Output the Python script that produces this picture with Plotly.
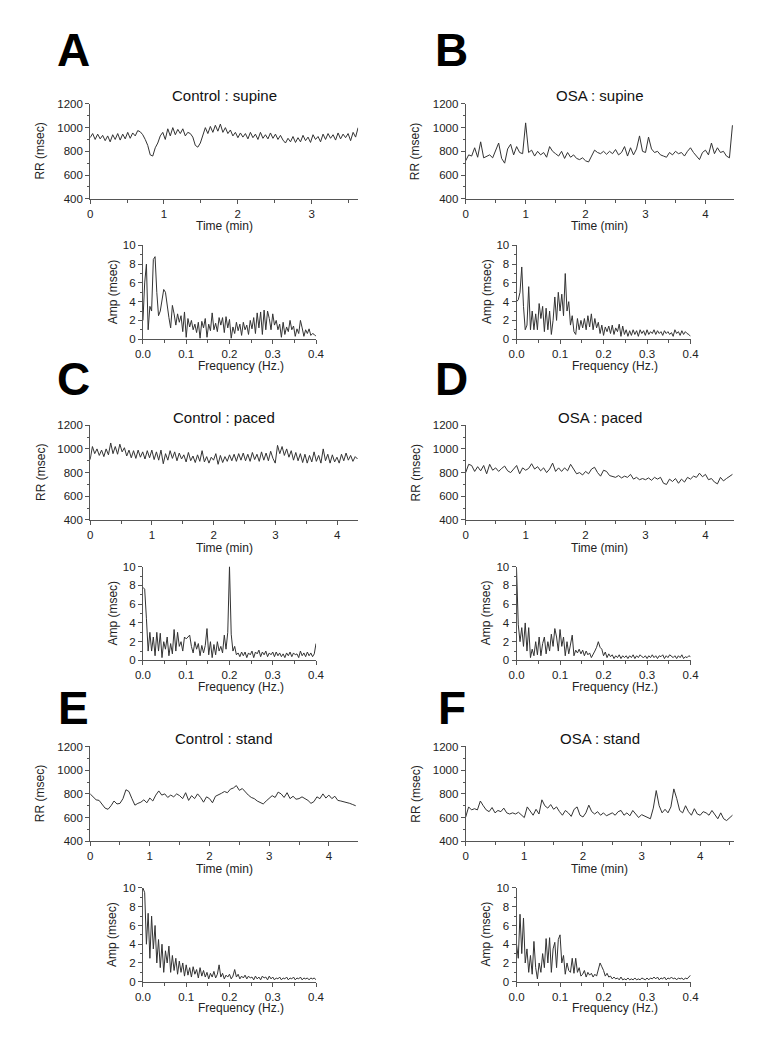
import numpy as np
import plotly.graph_objects as go

W, H = 771, 1050

# ---------------- data ----------------
panel_letters = ["A", "B", "C", "D", "E", "F"]
panel_titles = ["Control : supine", "OSA : supine", "Control : paced",
                "OSA : paced", "Control : stand", "OSA : stand"]
durations_min = [3.63, 4.45, 4.33, 4.45, 4.45, 4.55]
time_axis_end = [3.63, 4.47, 4.34, 4.47, 4.49, 4.57]

rr_A = [915, 950, 900, 945, 905, 935, 890, 930, 880, 940, 900, 950, 895, 945, 905, 960, 910, 955, 930, 975,
        965, 940, 900, 850, 770, 760, 830, 870, 930,
        960, 900, 990, 930, 1000, 940, 985, 950, 990, 930, 960,
        950, 920, 850, 835, 870, 940,
        1000, 950, 1010, 960, 1020, 970, 1030, 960, 1000, 950,
        980, 930, 960, 915, 955, 920, 950, 905, 960, 915, 945, 900, 960, 910, 940, 905, 955, 910, 945, 900, 935, 895,
        870, 910, 880, 925, 875, 915, 880, 935, 890, 920, 875, 940, 900, 925, 880, 945, 900, 950, 910, 940,
        895, 955, 905, 945, 915, 950, 890, 960, 920, 1000]

rr_B = [720, 770, 760, 830, 750, 880, 745, 760, 770, 745, 800, 870, 740, 700, 820, 860, 770, 840, 790, 780,
        1040, 790, 810, 760, 800, 770, 790, 750, 840, 800, 780, 760, 800, 740, 790, 750, 770, 740, 730, 745,
        720, 710, 760, 810, 790, 780, 800, 775, 800, 780, 815, 770, 790, 840, 760, 830, 770, 820, 930, 800,
        790, 920, 820, 790, 800, 770, 760, 750, 790, 770, 800, 780, 790, 760, 800, 830, 790, 760, 730, 790,
        810, 770, 870, 780, 830, 790, 800, 760, 745, 1020]

rr_C = [910, 1020, 960, 1000, 945, 990, 935, 1000, 950, 1050, 960, 1020, 955, 1040, 975, 1010, 940, 990, 925, 985,
        920, 990, 930, 975, 915, 985, 925, 990, 910, 975, 905, 990, 875, 960, 905, 985, 920, 975, 900, 965,
        915, 950, 890, 970, 900, 940, 885, 950, 895, 985, 890, 935, 880, 930, 905, 960, 870, 945, 885, 935,
        895, 950, 900, 955, 895, 960, 905, 965, 900, 955, 895, 970, 910, 955, 895, 975, 905, 965, 900, 980,
        920, 880, 1030, 960, 1020, 945, 1000, 930, 985, 905, 970, 900, 960, 885, 955, 880, 945, 890, 975, 895,
        945, 880, 1000, 900, 955, 880, 950, 890, 930, 880, 955, 900, 965, 905, 945, 895, 935, 915]

rr_D = [800, 870, 860, 810, 850, 815, 860, 790, 870, 820, 840, 810, 835, 855, 815, 800, 830, 860, 790, 840,
        820, 835, 875, 830, 850, 815, 840, 800, 830, 880, 810, 840, 810, 840, 815, 870, 830, 790, 800, 780,
        810, 790, 830, 845, 800, 770, 820, 810, 775, 770, 760, 775, 755, 770, 760, 785, 745, 760, 740, 750,
        740, 755, 735, 760, 745, 760, 710, 700, 745, 725, 750, 710, 745, 720, 760, 745, 770, 760, 795, 765,
        785, 740, 750, 720, 705, 760, 730, 750, 770, 785]

rr_E = [800, 775, 750, 745, 710, 680, 670, 700, 740, 715, 720, 760, 835, 820, 760, 705, 720, 730, 750, 725,
        765, 740, 790, 825, 790, 800, 770, 790, 775, 800, 785, 760, 810, 745, 785, 760, 800, 770, 730, 775,
        760, 725, 780, 790, 805, 820, 810, 840, 850, 870, 830, 845, 815, 790, 770, 760, 740, 725, 715, 740,
        760, 785, 770, 815, 800, 770, 810, 760, 780, 755, 760, 775, 760, 745, 720, 735, 775, 760, 800, 765,
        790, 760, 780, 745, 740, 735, 730, 720, 710, 700]

rr_F = [604, 690, 665, 675, 665, 740, 700, 665, 650, 685, 640, 660, 650, 680, 640, 630, 640, 630, 645, 625,
        600, 690, 650, 620, 670, 630, 750, 700, 680, 710, 670, 690, 650, 620, 660, 640, 610, 670, 690, 620,
        605, 640, 705, 650, 630, 650, 620, 640, 615, 630, 640, 620, 650, 660, 620, 640, 615, 660, 625, 600,
        625, 615, 600, 590, 680, 828, 700, 640, 670, 640, 690, 842, 760, 660, 640, 700, 650, 620, 675, 630,
        620, 650, 640, 620, 660, 620, 590, 640, 590, 575, 600, 620]

# spectra: frequency grid 0 .. 0.4 Hz, step 0.004 Hz
freq_step_hz = 0.004
amp_A = [2.0, 6.0, 8.0, 1.0, 3.5, 3.0, 8.5, 8.8, 5.0, 2.5, 3.0, 4.2, 5.3, 5.0, 3.5, 2.3, 1.2, 3.6, 2.7, 1.5,
         2.7, 1.8, 2.5, 0.8, 2.9, 0.2, 2.2, 1.3, 2.0, 1.0, 1.6, 0.7, 1.8, 0.1, 1.9, 1.2, 2.2, 0.2, 1.6, 0.9,
         2.8, 1.0, 1.7, 0.8, 2.3, 1.5, 2.3, 0.7, 2.4, 1.2, 2.1, 0.1, 1.3, 0.6, 1.8, 0.9, 1.6, 0.4, 1.8, 1.0,
         1.5, 0.5, 2.0, 1.1, 2.3, 0.6, 2.8, 1.2, 2.9, 0.5, 3.1, 1.0, 3.0, 2.2, 1.0, 2.7, 1.5, 2.0, 1.0, 1.6,
         0.2, 1.8, 0.5, 1.3, 0.8, 2.0, 1.0, 1.4, 0.3, 1.1, 0.6, 2.0, 1.2, 0.3, 1.0, 0.6, 1.1, 0.4, 0.6, 0.5,
         0.3]
amp_B = [4.0, 4.2, 5.0, 7.7, 3.5, 1.0, 1.5, 5.6, 1.0, 3.0, 1.0, 2.7, 1.0, 3.8, 2.2, 3.5, 0.8, 3.3, 1.0, 3.0,
         0.5, 2.0, 4.5, 2.0, 5.0, 3.0, 4.8, 2.5, 7.0, 3.0, 4.0, 1.5, 2.5, 0.8, 0.5, 2.2, 1.0, 2.0, 1.2, 2.2,
         1.0, 2.5, 1.3, 2.7, 1.0, 2.2, 1.2, 1.8, 0.6, 1.5, 0.4, 1.3, 0.8, 1.4, 0.6, 1.5, 0.5, 1.2, 0.8, 1.6,
         0.3, 1.4, 0.5, 1.0, 0.3, 0.9, 0.4, 1.0, 0.5, 0.9, 0.3, 1.0, 0.6, 0.9, 0.4, 1.0, 0.5, 0.8, 0.6, 1.0,
         0.5, 0.9, 0.6, 0.8, 0.4, 0.9, 0.6, 0.8, 0.5, 0.7, 0.3, 1.0, 0.6, 0.8, 0.4, 0.9, 0.5, 0.8, 0.6, 0.5,
         0.3]
amp_C = [7.8, 7.6, 4.5, 1.0, 3.0, 1.0, 2.5, 0.5, 3.0, 1.0, 2.9, 0.3, 2.0, 1.2, 2.5, 0.5, 1.8, 0.7, 3.3, 1.0,
         3.0, 1.5, 2.0, 1.0, 2.5, 2.3, 2.5, 2.7, 1.5, 0.8, 2.0, 1.2, 1.8, 0.5, 1.6, 0.8, 1.6, 3.4, 0.6, 2.0,
         0.3, 1.7, 0.6, 2.0, 1.0, 1.5, 0.8, 2.7, 1.2, 3.0, 10.0, 2.8, 1.0, 1.5, 0.6, 0.8, 0.4, 0.9, 0.5, 0.9,
         0.3, 0.8, 0.6, 1.0, 0.3, 0.9, 0.7, 1.1, 0.4, 0.9, 0.6, 1.0, 0.4, 0.8, 0.6, 0.9, 0.4, 0.9, 0.5, 0.8,
         0.4, 0.7, 0.3, 0.8, 0.5, 0.9, 0.4, 0.8, 0.6, 0.7, 0.3, 1.0, 0.5, 0.8, 0.4, 0.9, 0.5, 0.8, 0.4, 0.7,
         1.8]
amp_D = [9.8, 3.8, 2.0, 3.5, 1.5, 4.0, 1.0, 3.5, 0.3, 1.2, 0.5, 2.0, 0.6, 2.5, 0.5, 1.8, 2.5, 0.7, 2.0, 1.0,
         2.8, 1.5, 3.4, 2.5, 1.0, 3.3, 1.5, 2.5, 0.5, 2.0, 0.7, 1.6, 2.7, 0.5, 1.1, 0.8, 1.2, 0.7, 1.1, 0.5,
         1.0, 0.6, 0.8, 0.3, 0.6, 1.0, 1.4, 2.0, 1.4, 1.2, 0.5, 0.9, 0.3, 0.7, 0.4, 0.6, 0.2, 0.5, 0.3, 0.6,
         0.2, 0.5, 0.3, 0.5, 0.2, 0.5, 0.3, 0.6, 0.2, 0.5, 0.3, 0.6, 0.4, 0.3, 0.5, 0.2, 0.5, 0.3, 0.6, 0.3,
         0.5, 0.2, 0.5, 0.4, 0.6, 0.2, 0.5, 0.3, 0.6, 0.4, 0.3, 0.5, 0.2, 0.5, 0.3, 0.6, 0.2, 0.4, 0.3, 0.5,
         0.4]
amp_E = [10.0, 9.5, 4.0, 7.3, 2.5, 7.0, 3.5, 6.0, 2.0, 4.5, 1.5, 4.0, 1.0, 3.3, 2.0, 3.8, 1.0, 2.8, 1.2, 2.5,
         0.8, 2.2, 1.0, 2.0, 0.6, 1.8, 0.7, 1.5, 0.5, 1.6, 0.8, 1.3, 0.4, 1.5, 0.6, 1.2, 0.5, 1.0, 0.3, 0.9,
         0.5, 1.1, 0.4, 0.8, 1.8, 0.5, 0.9, 0.3, 0.7, 0.5, 0.8, 0.3, 0.6, 1.3, 0.5, 0.8, 0.3, 0.6, 0.4, 0.7,
         0.3, 0.6, 0.4, 0.5, 0.2, 0.6, 0.3, 0.5, 0.2, 0.6, 0.4, 0.5, 0.2, 0.6, 0.3, 0.5, 0.2, 0.4, 0.3, 0.5,
         0.2, 0.4, 0.3, 0.5, 0.2, 0.4, 0.3, 0.5, 0.2, 0.4, 0.3, 0.5, 0.2, 0.4, 0.3, 0.4, 0.2, 0.4, 0.3, 0.4,
         0.2]
amp_F = [4.0, 2.5, 7.2, 3.0, 6.8, 2.0, 3.5, 1.0, 2.8, 0.8, 4.3, 1.5, 0.3, 2.0, 1.0, 3.0, 1.5, 4.6, 2.0, 4.7,
         1.0, 3.5, 4.2, 1.5, 4.5, 5.0, 2.0, 2.8, 0.8, 2.0, 1.2, 1.0, 2.5, 0.9, 2.5, 1.0, 1.5, 0.6, 0.8, 1.2,
         0.5, 1.0, 0.7, 0.9, 0.5, 0.8, 0.6, 1.2, 2.0, 1.6, 1.2, 0.6, 0.9, 0.5, 0.6, 0.3, 0.5, 0.3, 0.4, 0.2,
         0.5, 0.2, 0.3, 0.2, 0.4, 0.2, 0.3, 0.2, 0.4, 0.2, 0.3, 0.2, 0.4, 0.3, 0.2, 0.4, 0.2, 0.4, 0.3, 0.5,
         0.3, 0.5, 0.2, 0.4, 0.3, 0.5, 0.2, 0.4, 0.3, 0.5, 0.3, 0.4, 0.2, 0.4, 0.3, 0.4, 0.2, 0.4, 0.3, 0.5,
         0.7]

rr_ticks = [400, 600, 800, 1000, 1200]
amp_ticks = [0, 2, 4, 6, 8, 10]
freq_ticks = [0.0, 0.1, 0.2, 0.3, 0.4]

rr_series = [rr_A, rr_B, rr_C, rr_D, rr_E, rr_F]
amp_series = [amp_A, amp_B, amp_C, amp_D, amp_E, amp_F]

# ---------------- layout geometry (pixels) ----------------
FONT = "Liberation Sans, Arial, Helvetica, sans-serif"
LINE = "#333333"
AXC = "#555555"


def xd(a, b):
    return [a / W, b / W]


def yd(top, bottom):
    return [1 - bottom / H, 1 - top / H]


def px_x(v):
    return v / W


def px_y(v):
    return 1 - v / H


fig = go.Figure()
layout = dict(width=W, height=H, margin=dict(l=0, r=0, t=0, b=0),
              paper_bgcolor="white", plot_bgcolor="white", showlegend=False,
              font=dict(family=FONT, size=11.5, color="#222"))
annotations = []

top_x = [(84, 358), (468, 742)]
spec_x = [(138, 315), (520, 698)]
letter_x = [67, 454]
letter_y = [45, 377, 710]

common_axis = dict(showline=True, linecolor=AXC, linewidth=1, showgrid=False, zeroline=False,
                   ticks="outside", ticklen=4, tickcolor=AXC, tickwidth=1,
                   tickfont=dict(family=FONT, size=11.5, color="#222"))

ax_n = 0
for i in range(6):
    col, row = i % 2, i // 2
    off = 325 * row
    # ---- RR time series ----
    ax_n += 1
    xa = "xaxis" if ax_n == 1 else f"xaxis{ax_n}"
    ya = "yaxis" if ax_n == 1 else f"yaxis{ax_n}"
    xr = "x" if ax_n == 1 else f"x{ax_n}"
    yr = "y" if ax_n == 1 else f"y{ax_n}"
    vals = rr_series[i]
    t = np.linspace(0, durations_min[i], len(vals))
    fig.add_trace(go.Scatter(x=t, y=vals, mode="lines", xaxis=xr, yaxis=yr,
                             line=dict(color=LINE, width=1), hoverinfo="skip"))
    x0, x1 = top_x[col]
    layout[xa] = dict(common_axis, domain=xd(x0, x1), anchor=yr,
                      range=[0, time_axis_end[i]], tickmode="array",
                      tickvals=list(range(0, int(time_axis_end[i]) + 1)),
                      minor=dict(dtick=0.5, tick0=0, ticks="outside", ticklen=3, tickcolor=AXC))
    layout[ya] = dict(common_axis, domain=yd(99 + off, 195 + off), anchor=xr,
                      range=[399.5, 1200.5], tickmode="array", tickvals=rr_ticks,
                      minor=dict(dtick=100, tick0=0, ticks="outside", ticklen=2, tickcolor=AXC))
    cx = (x0 + x1) / 2
    annotations += [
        dict(text=panel_titles[i], x=px_x(cx), y=px_y(91 + off), xref="paper", yref="paper",
             showarrow=False, xanchor="center", yanchor="middle",
             font=dict(family=FONT, size=15, color="#111")),
        dict(text="Time (min)", x=px_x(cx), y=px_y(223 + off), xref="paper", yref="paper",
             showarrow=False, xanchor="center", yanchor="middle",
             font=dict(family=FONT, size=12, color="#222")),
        dict(text="RR (msec)", x=px_x(x0 - 51), y=px_y(147 + off), xref="paper", yref="paper",
             showarrow=False, xanchor="center", yanchor="middle", textangle=-90,
             font=dict(family=FONT, size=12, color="#222")),
        dict(text=f"<b>{panel_letters[i]}</b>", x=px_x(letter_x[col]), y=px_y(letter_y[row]),
             xref="paper", yref="paper", showarrow=False, xanchor="center", yanchor="middle",
             font=dict(family=FONT, size=46, color="black")),
    ]
    # ---- amplitude spectrum ----
    ax_n += 1
    xa = f"xaxis{ax_n}"
    ya = f"yaxis{ax_n}"
    xr = f"x{ax_n}"
    yr = f"y{ax_n}"
    amps = amp_series[i]
    f = np.arange(len(amps)) * freq_step_hz
    fig.add_trace(go.Scatter(x=f, y=amps, mode="lines", xaxis=xr, yaxis=yr,
                             line=dict(color=LINE, width=1), hoverinfo="skip"))
    s0, s1 = spec_x[col]
    layout[xa] = dict(common_axis, domain=xd(s0, s1), anchor=yr,
                      range=[0, 0.4001], tickmode="array", tickvals=freq_ticks,
                      ticktext=[f"{v:.1f}" for v in freq_ticks],
                      minor=dict(dtick=0.05, tick0=0, ticks="outside", ticklen=3, tickcolor=AXC))
    layout[ya] = dict(common_axis, domain=yd(242 + off, 337 + off), anchor=xr,
                      range=[0, 10.02], tickmode="array", tickvals=amp_ticks,
                      minor=dict(dtick=1, tick0=0, ticks="outside", ticklen=2, tickcolor=AXC))
    annotations += [
        dict(text="Frequency (Hz.)", x=px_x((s0 + s1) / 2 + 12), y=px_y(364 + off),
             xref="paper", yref="paper", showarrow=False, xanchor="center", yanchor="middle",
             font=dict(family=FONT, size=12, color="#222")),
        dict(text="Amp (msec)", x=px_x(s0 - 31), y=px_y(289 + off), xref="paper", yref="paper",
             showarrow=False, xanchor="center", yanchor="middle", textangle=-90,
             font=dict(family=FONT, size=12, color="#222")),
    ]

layout["annotations"] = annotations
fig.update_layout(**layout)
fig.write_html("out.html", config={"displayModeBar": False},
               post_script="document.body.style.margin='0px';document.body.style.overflow='hidden';")
